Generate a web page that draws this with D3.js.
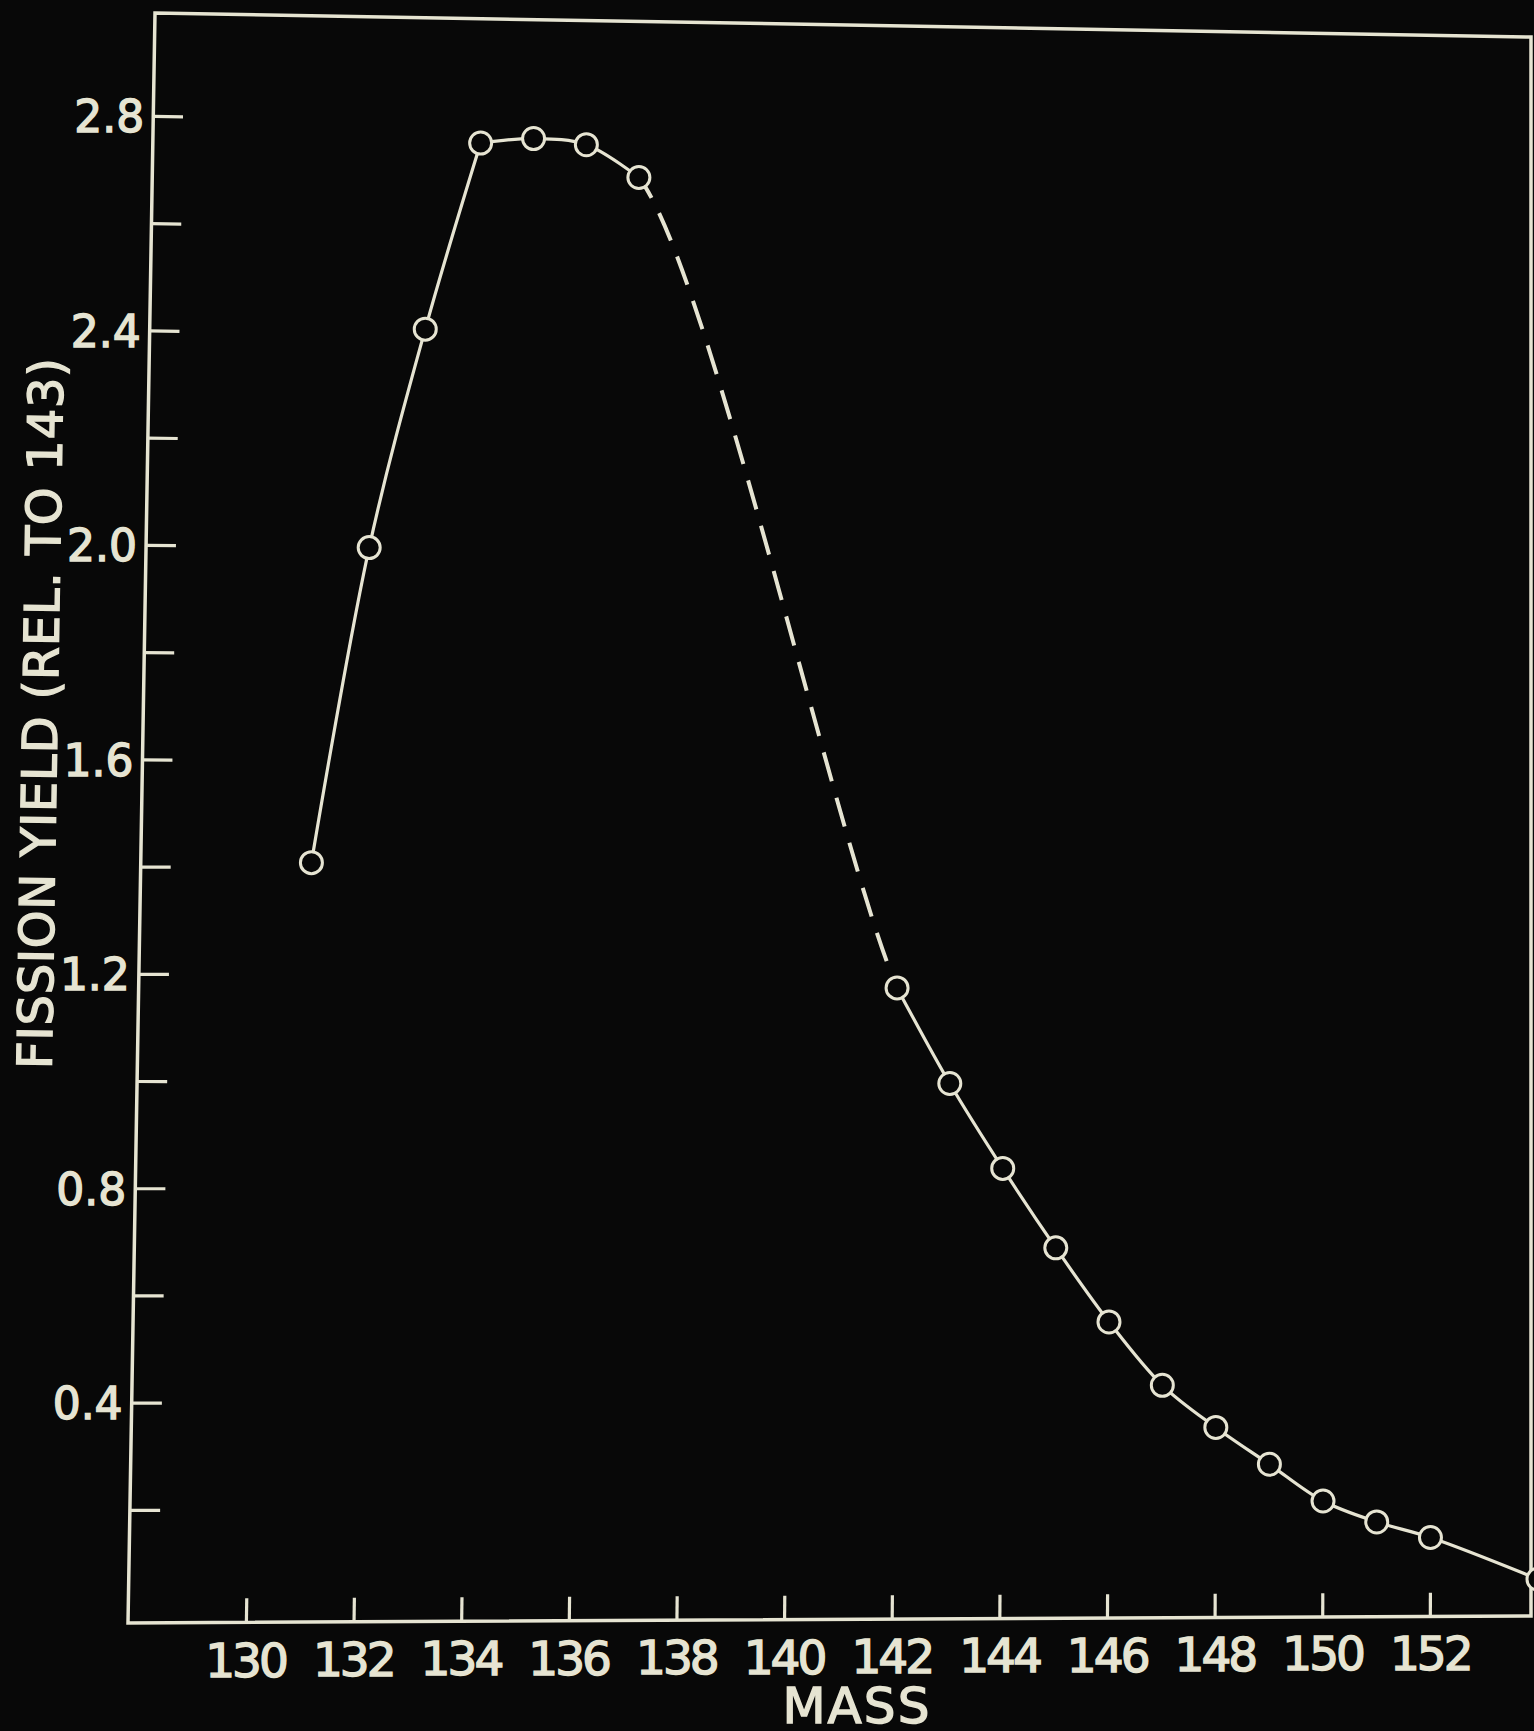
<!DOCTYPE html>
<html>
<head>
<meta charset="utf-8">
<script src="https://cdn.jsdelivr.net/npm/d3@7/dist/d3.min.js"></script>
<style>
  html, body { margin: 0; padding: 0; background: #080808; }
  svg { display: block; }
</style>
</head>
<body>
<svg id="chart" width="1534" height="1731"></svg>
<script>
// values
var masses = [131, 132, 133, 134, 135, 136, 137, 142, 143, 144, 145, 146, 147, 148, 149, 150, 151, 152, 154];
var yields = [1.41, 2.00, 2.41, 2.76, 2.77, 2.76, 2.70, 1.18, 1.00, 0.84, 0.69, 0.55, 0.43, 0.35, 0.28, 0.21, 0.17, 0.14, 0.06];
var massTicks = [130, 132, 134, 136, 138, 140, 142, 144, 146, 148, 150, 152];
var yieldTicks = [0.2, 0.4, 0.6, 0.8, 1.0, 1.2, 1.4, 1.6, 1.8, 2.0, 2.2, 2.4, 2.6, 2.8];
var yieldLabels = [0.4, 0.8, 1.2, 1.6, 2.0, 2.4, 2.8];
var cornerMass = 134;               // the hand drawn curve has a corner here
var gapStart = 137, gapEnd = 142;   // no measurements in between, drawn dashed

var ink = '#e6e4d2';
var paper = '#080808';
var font = '"DejaVu Sans", "Liberation Sans", sans-serif';

var svg = d3.select('#chart');
svg.append('rect').attr('width', 1534).attr('height', 1731).style('fill', paper);

// the figure is a photo of a drawing: the plot box is not quite square on the page,
// so plot coordinates are bent onto the photographed frame corners
var width = 1390;
var height = 1600;
var frameTL = [155, 13], frameTR = [1531, 37], frameBR = [1531, 1616], frameBL = [128, 1623];

function warp(px, py){
  var u = px / width, v = py / height;
  var a = (1 - u) * (1 - v), b = u * (1 - v), c = u * v, d = (1 - u) * v;
  return [a * frameTL[0] + b * frameTR[0] + c * frameBR[0] + d * frameBL[0],
          a * frameTL[1] + b * frameTR[1] + c * frameBR[1] + d * frameBL[1]];
}

var x = d3.scaleLinear().domain([127.80, 153.87]).range([0, width]);
var y = d3.scaleLinear().domain([-0.01, 2.993]).range([height, 0]);

var points = masses.map(function(m, i){
  var p = warp(x(m), y(yields[i]));
  return { mass: m, value: yields[i], sx: p[0], sy: p[1] };
});

function run(lo, hi){
  return points.filter(function(d){ return d.mass >= lo && d.mass <= hi; });
}

var chart = svg.append('g');

// frame
chart.append('path')
  .attr('d', d3.line()([[0, 0], [width, 0], [width, height], [0, height]].map(function(c){
    return warp(c[0], c[1]);
  })) + 'Z')
  .style('fill', 'none')
  .style('stroke', ink)
  .style('stroke-width', 3.5)
  .style('stroke-linejoin', 'miter');

// y ticks, pointing inward
chart.selectAll('line.ytick')
  .data(yieldTicks)
  .enter().append('line')
  .attr('class', 'ytick')
  .attr('x1', function(t){ return warp(0, y(t))[0]; })
  .attr('y1', function(t){ return warp(0, y(t))[1]; })
  .attr('x2', function(t){ return warp(30, y(t))[0]; })
  .attr('y2', function(t){ return warp(30, y(t))[1]; })
  .style('stroke', ink)
  .style('stroke-width', 3.2);

var fmt = d3.format('.1f');
chart.selectAll('text.ylabel')
  .data(yieldLabels)
  .enter().append('text')
  .attr('class', 'ylabel')
  .attr('x', function(t){ return warp(-9, y(t))[0]; })
  .attr('y', function(t){ return warp(-9, y(t))[1]; })
  .attr('dy', '0.36em')
  .attr('text-anchor', 'end')
  .style('font-size', '44px')
  .text(fmt);

// x ticks
chart.selectAll('line.xtick')
  .data(massTicks)
  .enter().append('line')
  .attr('class', 'xtick')
  .attr('x1', function(t){ return warp(x(t), height)[0]; })
  .attr('y1', function(t){ return warp(x(t), height)[1]; })
  .attr('x2', function(t){ return warp(x(t), height - 24)[0]; })
  .attr('y2', function(t){ return warp(x(t), height - 24)[1]; })
  .style('stroke', ink)
  .style('stroke-width', 3.2);

chart.selectAll('text.xlabel')
  .data(massTicks)
  .enter().append('text')
  .attr('class', 'xlabel')
  .attr('x', function(t){ return warp(x(t), height + 54)[0]; })
  .attr('y', function(t){ return warp(x(t), height + 54)[1]; })
  .attr('text-anchor', 'middle')
  .style('font-size', '47px')
  .style('letter-spacing', '-3px')
  .text(function(t){ return t; });

// axis titles
var leftAngle = Math.atan2(frameTL[1] - frameBL[1], frameTL[0] - frameBL[0]) * 180 / Math.PI;
var titlePos = warp(-86, 697);
chart.append('text')
  .attr('transform', 'translate(' + titlePos[0] + ',' + titlePos[1] + ') rotate(' + leftAngle + ')')
  .attr('text-anchor', 'middle')
  .attr('textLength', 711)
  .attr('lengthAdjust', 'spacing')
  .style('font-size', '48px')
  .text('FISSION YIELD (REL. TO 143)');

var massPos = warp(722, height + 104);
chart.append('text')
  .attr('x', massPos[0])
  .attr('y', massPos[1])
  .attr('text-anchor', 'middle')
  .attr('textLength', 147)
  .attr('lengthAdjust', 'spacing')
  .style('font-size', '50px')
  .text('MASS');

chart.selectAll('text')
  .style('fill', ink)
  .style('stroke', ink)
  .style('stroke-width', 1.4)
  .style('font-family', font);

// curve
var line = d3.line()
  .x(function(d){ return d.sx; })
  .y(function(d){ return d.sy; })
  .curve(d3.curveCatmullRom.alpha(0.5));

var solidRuns = [run(masses[0], cornerMass), run(cornerMass, gapStart), run(gapEnd, masses[masses.length - 1])];
chart.selectAll('path.solid')
  .data(solidRuns)
  .enter().append('path')
  .attr('class', 'solid')
  .attr('d', line)
  .style('fill', 'none')
  .style('stroke', ink)
  .style('stroke-width', 3.2);

// dashed bridge: curve through the neighbours, clipped to the gap
var xa = warp(x(gapStart), 0)[0], xb = warp(x(gapEnd), height)[0];
svg.append('defs').append('clipPath').attr('id', 'gap-clip')
  .append('rect')
  .attr('x', xa).attr('y', 0)
  .attr('width', xb - xa).attr('height', 1731);

var bridge = points.filter(function(d, i){
  return d.mass === gapStart || d.mass === gapEnd ||
    (masses[i + 1] === gapStart) || (masses[i - 1] === gapEnd);
});
chart.append('path')
  .datum(bridge)
  .attr('d', line)
  .attr('clip-path', 'url(#gap-clip)')
  .style('fill', 'none')
  .style('stroke', ink)
  .style('stroke-width', 4)
  .style('stroke-dasharray', '30,17')
  .style('stroke-dashoffset', -10);

chart.selectAll('circle.pt')
  .data(points)
  .enter().append('circle')
  .attr('class', 'pt')
  .attr('cx', function(d){ return d.sx; })
  .attr('cy', function(d){ return d.sy; })
  .attr('r', 11)
  .style('fill', paper)
  .style('stroke', ink)
  .style('stroke-width', 3);
</script>
</body>
</html>
